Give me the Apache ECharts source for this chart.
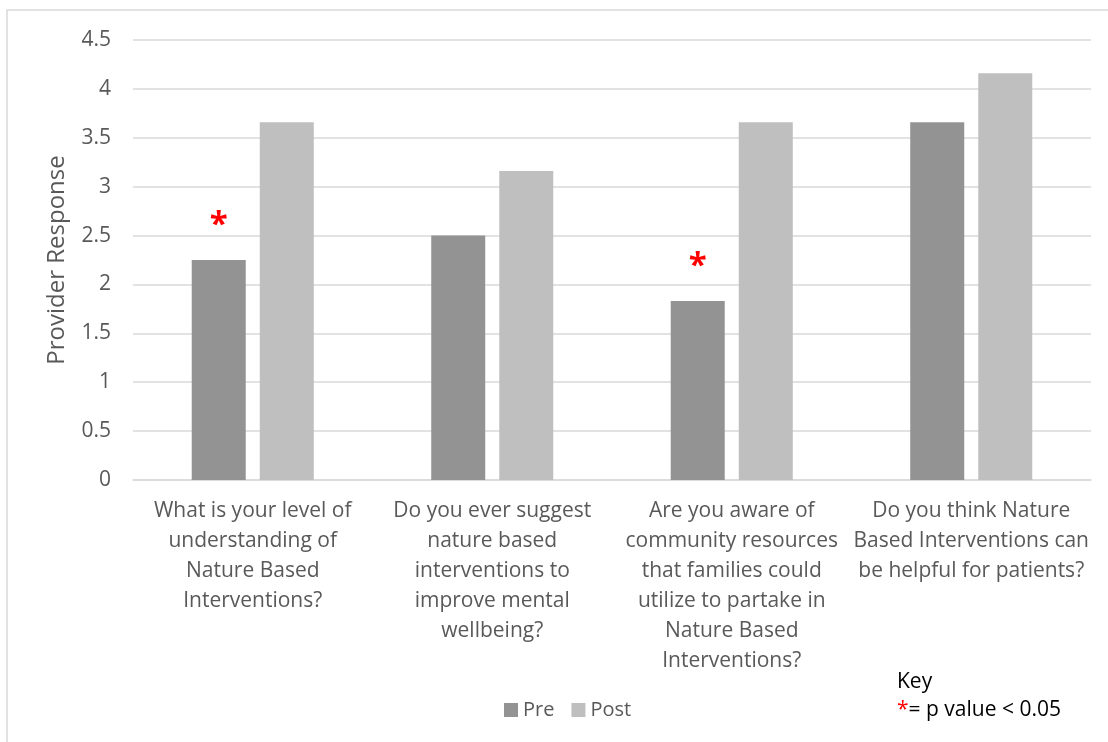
<!DOCTYPE html>
<html style="height: 100%;width:100%">
<head>
<meta charset="utf-8">
<style>html,body{margin:0;padding:0;background:#fff;}</style>
</head>
<body style="height: 100%; width:100%">
<div id="chart-panel" style="width:1108px;height:742px"></div>
<script type="text/javascript" src="https://cdn.jsdelivr.net/npm/echarts@6/dist/echarts.min.js"></script>
<script type="text/javascript">
// survey questions (x axis), line breaks as in the original
var categories = [
    'What is your level of\nunderstanding of\nNature Based\nInterventions?',
    'Do you ever suggest\nnature based\ninterventions to\nimprove mental\nwellbeing?',
    'Are you aware of\ncommunity resources\nthat families could\nutilize to partake in\nNature Based\nInterventions?',
    'Do you think Nature\nBased Interventions can\nbe helpful for patients?'
];
var preValues = [2.25, 2.5, 1.83, 3.66];
var postValues = [3.66, 3.16, 3.66, 4.16];
// p < 0.05 marks on the Pre bars
var preSignificant = [true, false, true, false];
var yMin = 0, yMax = 4.5, yStep = 0.5;

var FONT = "'Open Sans', sans-serif";
var TXT = '#595959';

var myChart = echarts.init(document.getElementById('chart-panel'));

var preData = preValues.map(function (v, i) {
    return {
        value: v,
        label: { show: preSignificant[i] }
    };
});

var option = {
    backgroundColor: '#fff',
    animation: false,
    textStyle: { fontFamily: FONT },
    grid: { left: 133, right: 17, top: 40, bottom: 262 },
    legend: {
        left: 504,
        top: 700,
        padding: 0,
        icon: 'rect',
        itemWidth: 14,
        itemHeight: 14,
        itemGap: 17,
        textStyle: { color: TXT, fontSize: 20, fontFamily: FONT },
        data: ['Pre', 'Post']
    },
    xAxis: {
        type: 'category',
        data: categories,
        axisLine: { lineStyle: { color: '#d9d9d9', width: 1.5 } },
        axisTick: { show: false },
        axisLabel: {
            interval: 0,
            color: TXT,
            fontSize: 21,
            lineHeight: 30,
            margin: 16,
            fontFamily: FONT
        }
    },
    yAxis: {
        type: 'value',
        min: yMin,
        max: yMax,
        interval: yStep,
        name: 'Provider Response',
        nameLocation: 'middle',
        nameGap: 64,
        nameTextStyle: { color: TXT, fontSize: 24, fontFamily: FONT },
        axisLine: { show: false },
        axisTick: { show: false },
        axisLabel: { color: TXT, fontSize: 21, margin: 22, fontFamily: FONT },
        splitLine: { lineStyle: { color: '#d9d9d9', width: 1.5 } }
    },
    series: [
        {
            name: 'Pre',
            type: 'bar',
            barWidth: 54,
            barGap: '26%',
            itemStyle: { color: '#939393' },
            label: {
                position: 'top',
                distance: 18,
                formatter: '*',
                color: '#ff0000',
                fontSize: 33,
                fontWeight: 'bold',
                fontFamily: FONT
            },
            data: preData
        },
        {
            name: 'Post',
            type: 'bar',
            barWidth: 54,
            itemStyle: { color: '#bfbfbf' },
            data: postValues
        }
    ],
    graphic: [
        {
            type: 'polyline',
            shape: { points: [[7, 742], [7, 10], [1108, 10]] },
            style: { stroke: '#d9d9d9', lineWidth: 1.5, fill: null }
        },
        {
            type: 'text',
            left: 897,
            top: 672,
            style: { text: 'Key', fill: '#000', font: '21px ' + FONT }
        },
        {
            type: 'text',
            left: 897,
            top: 700,
            style: {
                text: '{r|*}{k|= p value < 0.05}',
                rich: {
                    r: { fill: '#ff0000', fontSize: 21, fontFamily: FONT },
                    k: { fill: '#000', fontSize: 21, fontFamily: FONT }
                }
            }
        }
    ]
};

myChart.setOption(option);
</script>
</body>
</html>
